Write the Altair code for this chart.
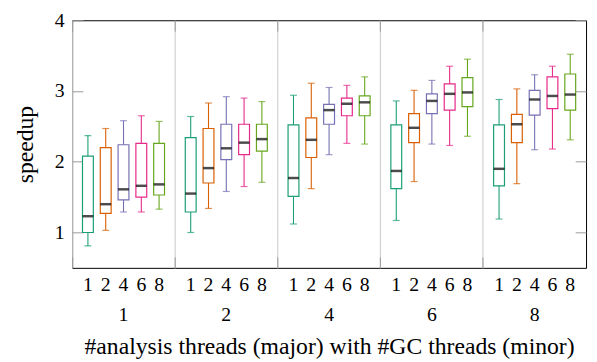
import altair as alt
import pandas as pd

majors = ["1", "2", "4", "6", "8"]
minors = ["1", "2", "4", "6", "8"]
colors = ["#1b9e77", "#d95f02", "#7570b3", "#e7298a", "#66a61e"]

lower = [0.81, 1.03, 1.29, 1.29, 1.33,
         1.00, 1.34, 1.58, 1.65, 1.71,
         1.12, 1.62, 2.10, 2.26, 2.25,
         1.17, 1.72, 2.25, 2.23, 2.36,
         1.19, 1.69, 2.17, 2.18, 2.31]
q1 = [1.00, 1.27, 1.46, 1.50, 1.53,
      1.29, 1.70, 2.03, 2.10, 2.15,
      1.51, 2.06, 2.53, 2.65, 2.65,
      1.62, 2.27, 2.68, 2.73, 2.78,
      1.66, 2.27, 2.66, 2.75, 2.73]
median = [1.23, 1.40, 1.61, 1.66, 1.68,
          1.55, 1.91, 2.19, 2.27, 2.32,
          1.77, 2.31, 2.73, 2.82, 2.84,
          1.87, 2.48, 2.86, 2.96, 2.98,
          1.90, 2.53, 2.88, 2.93, 2.95]
q3 = [2.08, 2.20, 2.24, 2.26, 2.26,
      2.34, 2.47, 2.53, 2.53, 2.53,
      2.52, 2.62, 2.81, 2.90, 2.93,
      2.52, 2.68, 2.96, 3.10, 3.19,
      2.52, 2.67, 3.01, 3.20, 3.24]
upper = [2.37, 2.47, 2.58, 2.65, 2.57,
         2.64, 2.83, 2.92, 2.90, 2.85,
         2.94, 3.11, 3.05, 3.08, 3.20,
         2.86, 3.01, 3.15, 3.35, 3.45,
         2.88, 3.03, 3.23, 3.35, 3.52]
y_ticks = [1, 2, 3, 4]

rows = []
for i, ma in enumerate(majors):
    for j, mi in enumerate(minors):
        k = i * len(minors) + j
        rows.append(dict(major=ma, minor=mi, lower=lower[k], q1=q1[k],
                         median=median[k], q3=q3[k], upper=upper[k]))
df = pd.DataFrame(rows)

W, H = 521, 251
FONT = "Liberation Serif"
TICK = "#999999"
LBL = 20

xs = alt.Scale(domain=majors, paddingInner=0, paddingOuter=0)
xo = alt.Scale(domain=minors, paddingInner=0.39, paddingOuter=0.583)
ys = alt.Scale(domain=[0.5, 4], nice=False, zero=False)
cs = alt.Scale(domain=minors, range=colors)


def X(axis):
    return alt.X("major:N", scale=xs, sort=majors, axis=axis)


XO = alt.XOffset("minor:N", scale=xo, sort=minors)

axis_main = alt.Axis(orient="bottom", grid=False, ticks=False, tickSize=0, domain=False,
                     labelAngle=0, labelBaseline="alphabetic", labelPadding=53,
                     title="#analysis threads (major) with #GC threads (minor)",
                     titlePadding=11, titleFontSize=24)
axis_grid = alt.Axis(orient="bottom", bandPosition=0, grid=True, gridColor="#c8c8c8",
                     gridWidth=1, ticks=False, labels=False, domain=False, title=None)
axis_btm_ticks = alt.Axis(orient="bottom", bandPosition=0, offset=-11, tickSize=11,
                          tickColor=TICK, ticks=True, labels=False, domain=False,
                          grid=False, title=None)
axis_top_ticks = alt.Axis(orient="top", bandPosition=0, offset=-11, tickSize=11,
                          tickColor=TICK, ticks=True, labels=False, domain=False,
                          grid=False, title=None)
axis_left = alt.Axis(orient="left", values=y_ticks, format="d", offset=-11, tickSize=11,
                     tickColor=TICK, domain=False, grid=False, labelPadding=8,
                     title="speedup", titlePadding=17, titleFontSize=24)
axis_right = alt.Axis(orient="right", values=y_ticks, offset=-11, tickSize=11,
                      tickColor=TICK, domain=False, grid=False, labels=False, title=None)

base = alt.Chart(df)

whisk = base.mark_rule(strokeWidth=1.1).encode(
    x=X(axis_grid), xOffset=XO,
    y=alt.Y("lower:Q", scale=ys, axis=axis_right), y2="upper:Q",
    color=alt.Color("minor:N", scale=cs, legend=None),
)
box = base.mark_bar(fill="white", strokeWidth=1.2).encode(
    x=X(axis_main), xOffset=XO,
    y=alt.Y("q1:Q", scale=ys, axis=axis_left), y2="q3:Q",
    stroke=alt.Stroke("minor:N", scale=cs, legend=None),
)
med = base.mark_tick(color="black", thickness=2.5, size=11).encode(
    x=X(axis_btm_ticks), xOffset=XO,
    y=alt.Y("median:Q", scale=ys, axis=None),
)
cap_lo = base.mark_tick(thickness=1.2, size=7).encode(
    x=X(axis_top_ticks), xOffset=XO,
    y=alt.Y("lower:Q", scale=ys, axis=None),
    color=alt.Color("minor:N", scale=cs, legend=None),
)
cap_hi = base.mark_tick(thickness=1.2, size=7).encode(
    x=X(None), xOffset=XO,
    y=alt.Y("upper:Q", scale=ys, axis=None),
    color=alt.Color("minor:N", scale=cs, legend=None),
)
minor_lbl = base.mark_text(fontSize=LBL, baseline="alphabetic", color="black").encode(
    x=X(None), xOffset=XO,
    y=alt.value(H + 23),
    text="minor:N",
)

chart = alt.layer(whisk, box, med, cap_lo, cap_hi, minor_lbl).resolve_axis(
    x="independent", y="independent"
).properties(
    width=W, height=H,
    autosize=alt.AutoSizeParams(type="none"),
    padding={"left": 65, "top": 10, "right": 3, "bottom": 93},
).configure(font=FONT).configure_view(
    stroke="black", strokeWidth=1
).configure_axis(
    labelFontSize=LBL, titleFontSize=24, titleFontWeight="normal",
    labelColor="black", titleColor="black", labelFont=FONT, titleFont=FONT,
)

chart.save("out.html", embed_options={"renderer": "svg", "actions": False})
